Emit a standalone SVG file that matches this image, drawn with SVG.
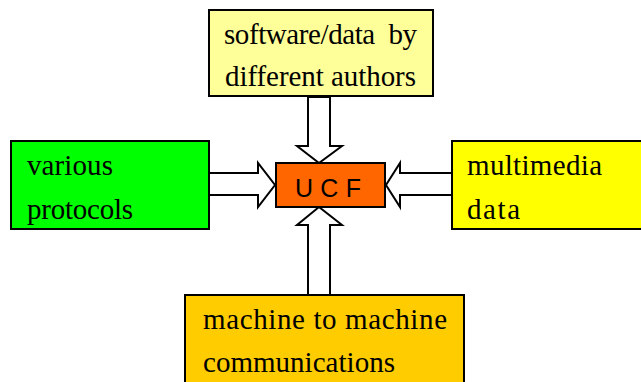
<svg xmlns="http://www.w3.org/2000/svg" width="641" height="382" viewBox="0 0 641 382">
<style>
.box{stroke:#000;stroke-width:2}
.lbl{font-family:"Liberation Serif",serif;font-size:29px;fill:#000}
.arr{fill:#fff;stroke:#000;stroke-width:2;stroke-linejoin:miter}
.ucf{font-family:"Liberation Sans",sans-serif;font-size:25px;fill:#000}
</style>
<rect width="641" height="382" fill="#fff"/>
<g id="connectors">
<polygon class="arr" points="308,97 308,146 297,146 319,163 342,146 330,146 330,97"/>
<polygon class="arr" points="308,295 308,225 297,225 319,207 342,225 330,225 330,295"/>
<polygon class="arr" points="209,173 258,173 258,163 275,185 258,207 258,195 209,195"/>
<polygon class="arr" points="452,173 400,173 400,163 386,185 400,207 400,195 452,195"/>
</g>
<g id="top">
<rect class="box" x="209" y="10" width="224" height="86" fill="#ffff99"/>
<text class="lbl" x="224" y="44" textLength="193" lengthAdjust="spacing" xml:space="preserve">software/data  by</text>
<text class="lbl" x="225" y="86" textLength="191" lengthAdjust="spacing">different authors</text>
</g>
<g id="left">
<rect class="box" x="11" y="141" width="198" height="88" fill="#00ff00"/>
<text class="lbl" x="27" y="175" textLength="86" lengthAdjust="spacing">various</text>
<text class="lbl" x="27" y="219" textLength="106" lengthAdjust="spacing">protocols</text>
</g>
<g id="right">
<rect class="box" x="452" y="141" width="200" height="88" fill="#ffff00"/>
<text class="lbl" x="467" y="175" textLength="135" lengthAdjust="spacing">multimedia</text>
<text class="lbl" x="467" y="219" textLength="53" lengthAdjust="spacing">data</text>
</g>
<g id="bottom">
<rect class="box" x="185" y="295" width="279" height="100" fill="#ffcc00"/>
<text class="lbl" x="203" y="329" textLength="244" lengthAdjust="spacing">machine to machine</text>
<text class="lbl" x="203" y="372" textLength="192" lengthAdjust="spacing">communications</text>
</g>
<g id="ucf">
<rect class="box" x="276" y="163" width="109" height="44" fill="#ff6600"/>
<text class="ucf" x="295" y="197" textLength="66" lengthAdjust="spacing">U C F</text>
</g>
</svg>
